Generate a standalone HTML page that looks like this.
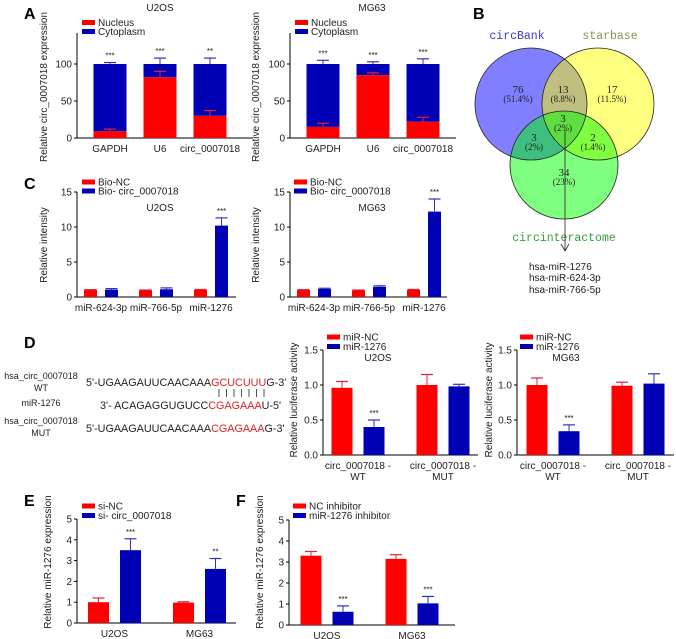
<!DOCTYPE html>
<html><head><meta charset="utf-8">
<style>
html,body{margin:0;padding:0;background:#fff;}
svg{display:block;font-family:"Liberation Sans",Arial,sans-serif;}
.t{font-size:10px;fill:#222;}
.tk{font-size:10px;fill:#222;}
.let{font-size:16px;font-weight:bold;fill:#000;}
.vn{font-family:"Liberation Serif","Noto Serif CJK SC",serif;font-size:11px;fill:#222;}
.vp{font-family:"Liberation Serif","Noto Serif CJK SC",serif;font-size:9px;fill:#222;}
.vl{font-family:"Liberation Mono",monospace;font-size:11.5px;}
.seq{font-size:10.8px;fill:#222;}
</style></head>
<body>
<svg id="fig" width="676" height="639" viewBox="0 0 676 639" xmlns="http://www.w3.org/2000/svg">
<g>
<text class="let" x="24" y="19">A</text>
<text class="let" x="473" y="19">B</text>
<text class="let" x="24" y="189">C</text>
<text class="let" x="24" y="348">D</text>
<text class="let" x="24" y="506">E</text>
<text class="let" x="236" y="506">F</text>
</g>
<g>
<circle cx="531" cy="104" r="56" fill="rgb(0,0,255)" fill-opacity="0.5"/>
<circle cx="598" cy="104" r="56" fill="rgb(255,255,0)" fill-opacity="0.5"/>
<circle cx="564" cy="165" r="54" fill="rgb(0,255,0)" fill-opacity="0.5"/>
<circle cx="531" cy="104" r="56" fill="none" stroke="#222" stroke-width="0.8"/>
<circle cx="598" cy="104" r="56" fill="none" stroke="#222" stroke-width="0.8"/>
<circle cx="564" cy="165" r="54" fill="none" stroke="#222" stroke-width="0.8"/>
<text class="vl" x="517" y="39" text-anchor="middle" fill="#3a3ad0">circBank</text>
<text class="vl" x="610" y="39" text-anchor="middle" fill="#8f8f50">starbase</text>
<text class="vl" x="564" y="241" text-anchor="middle" fill="#3a9a3a">circinteractome</text>
<g text-anchor="middle">
<text class="vn" x="518" y="93">76</text><text class="vp" x="518" y="102">(51.4%)</text>
<text class="vn" x="563" y="93">13</text><text class="vp" x="563" y="102">(8.8%)</text>
<text class="vn" x="612" y="93">17</text><text class="vp" x="612" y="102">(11.5%)</text>
<text class="vn" x="563" y="122">3</text><text class="vp" x="563" y="131">(2%)</text>
<text class="vn" x="534" y="141">3</text><text class="vp" x="534" y="150">(2%)</text>
<text class="vn" x="593" y="141">2</text><text class="vp" x="593" y="150">(1.4%)</text>
<text class="vn" x="564" y="176">34</text><text class="vp" x="564" y="185">(23%)</text>
</g>
<line x1="565" y1="130" x2="565" y2="251" stroke="#222" stroke-width="0.8"/>
<polyline points="561,244 565,251 569,244" fill="none" stroke="#222" stroke-width="0.8"/>
<text class="t" x="529" y="270">hsa-miR-1276</text>
<text class="t" x="529" y="281">hsa-miR-624-3p</text>
<text class="t" x="529" y="293">hsa-miR-766-5p</text>
</g>
<g style="font-size:9px" fill="#222">
<text x="41" y="379" text-anchor="middle">hsa_circ_0007018</text>
<text x="41" y="391" text-anchor="middle">WT</text>
<text x="41" y="406" text-anchor="middle">miR-1276</text>
<text x="41" y="424" text-anchor="middle">hsa_circ_0007018</text>
<text x="41" y="436" text-anchor="middle">MUT</text>
<text class="seq" x="86" y="386">5'-UGAAGAUUCAACAAA<tspan fill="#e02020">GCUCUUU</tspan>G-3'</text>
<text class="seq" x="100" y="409">3'-  ACAGAGGUGUCC<tspan fill="#e02020">CGAGAAA</tspan>U-5'</text>
<text class="seq" x="86" y="432">5'-UGAAGAUUCAACAAA<tspan fill="#e02020">CGAGAAA</tspan>G-3'</text>
<g stroke="#222" stroke-width="0.8">
<line x1="219" y1="389" x2="219" y2="397"/><line x1="226.5" y1="389" x2="226.5" y2="397"/><line x1="234" y1="389" x2="234" y2="397"/><line x1="241.5" y1="389" x2="241.5" y2="397"/><line x1="249" y1="389" x2="249" y2="397"/><line x1="256.5" y1="389" x2="256.5" y2="397"/><line x1="264" y1="389" x2="264" y2="397"/>
</g>
</g>
<g id="charts"></g>
</svg>
<script>
// ---------- data ----------
const aCats = ['GAPDH','U6','circ_0007018'];
const aU2osNucleus = [9, 82, 30];
const aU2osNucleusErr = [3, 8, 7];
const aU2osCytoErr = [2, 8, 8];
const aU2osSig = ['***','***','**'];
const aMg63Nucleus = [15, 85, 22];
const aMg63NucleusErr = [5, 3, 6];
const aMg63CytoErr = [5, 3, 7];
const aMg63Sig = ['***','***','***'];
const aTicks = [0, 50, 100];

const cCats = ['miR-624-3p','miR-766-5p','miR-1276'];
const cU2osNC = [1.0, 0.95, 1.0];
const cU2osNCErr = [0.05, 0.05, 0.08];
const cU2osBio = [1.05, 1.1, 10.2];
const cU2osBioErr = [0.15, 0.2, 1.1];
const cMg63NC = [1.0, 0.95, 1.0];
const cMg63NCErr = [0.05, 0.05, 0.08];
const cMg63Bio = [1.15, 1.45, 12.2];
const cMg63BioErr = [0.1, 0.15, 1.8];
const cSig = ['','','***'];
const cTicks = [0, 5, 10, 15];

const dCats = ['circ_0007018 -|WT','circ_0007018 -|MUT'];
const dU2osNC = [0.96, 1.0];
const dU2osNCErr = [0.09, 0.15];
const dU2osMir = [0.40, 0.98];
const dU2osMirErr = [0.10, 0.03];
const dMg63NC = [1.0, 0.99];
const dMg63NCErr = [0.10, 0.05];
const dMg63Mir = [0.34, 1.02];
const dMg63MirErr = [0.09, 0.14];
const dSig = ['***',''];
const dTicks = [0, 0.5, 1.0, 1.5];

const eCats = ['U2OS','MG63'];
const eNC = [1.0, 0.98];
const eNCErr = [0.2, 0.04];
const eSi = [3.5, 2.6];
const eSiErr = [0.55, 0.5];
const eSig = ['***','**'];
const fNC = [3.3, 3.15];
const fNCErr = [0.2, 0.2];
const fInh = [0.63, 1.03];
const fInhErr = [0.28, 0.33];
const fSig = ['***','***'];
const efTicks = [0, 1, 2, 3, 4, 5];

// ---------- drawing ----------
const NS = 'http://www.w3.org/2000/svg';
const root = document.getElementById('charts');
const RED = '#ff0000', BLUE = '#0000b4';
function mk(tag, attrs, parent) {
  const e = document.createElementNS(NS, tag);
  for (const k in attrs) e.setAttribute(k, attrs[k]);
  (parent || root).appendChild(e);
  return e;
}
function txt(x, y, s, cls, anchor, parent) {
  const t = mk('text', {x: x, y: y, class: cls || 't', 'text-anchor': anchor || 'middle'}, parent);
  t.textContent = s;
  return t;
}
function axes(g, p) {
  const y = v => p.base - v * p.ppu;
  const ax = mk('path', {d: `M${p.x0},${p.top}V${p.base}H${p.x1}`, fill: 'none', stroke: '#000', 'stroke-width': 1}, g);
  
  
  p.ticks.forEach(v => {
    mk('line', {x1: p.x0 - 3, x2: p.x0, y1: y(v), y2: y(v), stroke: '#000'}, g);
    const t = txt(p.x0 - 5, y(v) + 3.5, p.fmt ? v.toFixed(1) : String(v), 'tk', 'end', g);
    
    
  });
  const yt = mk('text', {x: 0, y: 0, class: 't', 'text-anchor': 'middle', transform: `translate(${p.tx},${p.tcy}) rotate(-90)`}, g);
  yt.textContent = p.ytitle;
  
  
  if (p.title) {
    const tt = txt(p.titleX, p.titleY, p.title, 't', 'middle', g);
    
    
  }
  return y;
}
function err(g, cx, yTop, yErr, color) {
  mk('line', {x1: cx, x2: cx, y1: yTop, y2: yErr, stroke: color, 'stroke-width': 1}, g);
  mk('line', {x1: cx - 6, x2: cx + 6, y1: yErr, y2: yErr, stroke: color, 'stroke-width': 1.2}, g);
}
function legend(g, x, y, labels, gap) {
  labels.forEach((l, i) => {
    const sw = mk('rect', {x: x, y: y + i * gap - 2.5, width: 13, height: 5, fill: i ? BLUE : RED}, g);
    
    
    const t = txt(x + 16, y + i * gap + 3.5, l, 't', 'start', g);
    
    
  });
}
function stacked(name, p, nuc, nucErr, cytErr, sig) {
  const g = mk('g', {});
  
  
  const y = axes(g, p);
  aCats.forEach((c, i) => {
    const cx = p.x0 + p.first + i * p.step, w = p.w;
    const b1 = mk('rect', {x: cx - w / 2, y: y(100), width: w, height: y(nuc[i]) - y(100), fill: BLUE}, g);
    
    
    const b2 = mk('rect', {x: cx - w / 2, y: y(nuc[i]), width: w, height: y(0) - y(nuc[i]), fill: RED}, g);
    
    
    err(g, cx, y(nuc[i]), y(nuc[i] + nucErr[i]), '#e02040');
    err(g, cx, y(100), y(100 + cytErr[i]), '#3030c0');
    const s = txt(cx, y(100 + cytErr[i]) - 4, sig[i], 't', 'middle', g);
    s.setAttribute('style', 'font-size:8px');
    const l = txt(cx, p.base + 14, c, 't', 'middle', g);
    
    
  });
  legend(g, p.x0 + 5, 22.5, ['Nucleus', 'Cytoplasm'], 9);
}
function grouped(name, p, cats, s1, e1, s2, e2, sig, legendLabels) {
  const g = mk('g', {});
  
  
  const y = axes(g, p);
  cats.forEach((c, i) => {
    const gc = p.x0 + p.first + i * p.step;
    [[s1, e1, RED, '#e02040', -1], [s2, e2, BLUE, '#3030c0', 1]].forEach(([s, e, col, ecol, sgn]) => {
      const cx = gc + sgn * p.off;
      const b = mk('rect', {x: cx - p.w / 2, y: y(s[i]), width: p.w, height: y(0) - y(s[i]), fill: col}, g);
      
      
      err(g, cx, y(s[i]), y(s[i] + e[i]), ecol);
      if (sgn > 0 && sig[i]) {
        const st = txt(cx, y(s[i] + e[i]) - 4, sig[i], 't', 'middle', g);
        st.setAttribute('style', 'font-size:8px');
      }
    });
    c.split('|').forEach((part, k) => {
      const l = txt(gc, p.base + 14 + k * 11, part, 't', 'middle', g);
      
      
    });
  });
  legend(g, p.lx, p.ly, legendLabels, p.lgap);
}

const aBase = {base: 138, ppu: 0.74, top: 33, ticks: aTicks, ytitle: 'Relative circ_0007018 expression', tcy: 87, titleY: 11, first: 33, step: 50, w: 33};
stacked('chart-a-u2os', Object.assign({}, aBase, {x0: 77, x1: 253, tx: 47, title: 'U2OS', titleX: 160}), aU2osNucleus, aU2osNucleusErr, aU2osCytoErr, aU2osSig);
stacked('chart-a-mg63', Object.assign({}, aBase, {x0: 290, x1: 456, tx: 259, title: 'MG63', titleX: 372}), aMg63Nucleus, aMg63NucleusErr, aMg63CytoErr, aMg63Sig);

const cBase = {base: 297, ppu: 7, top: 192, ticks: cTicks, ytitle: 'Relative intensity', tcy: 245, titleY: 211, first: 24, step: 55, w: 13, off: 10.5, ly: 182, lgap: 9};
grouped('chart-c-u2os', Object.assign({}, cBase, {x0: 77, x1: 236, tx: 47, title: 'U2OS', titleX: 160, lx: 82}), cCats, cU2osNC, cU2osNCErr, cU2osBio, cU2osBioErr, cSig, ['Bio-NC', 'Bio- circ_0007018']);
grouped('chart-c-mg63', Object.assign({}, cBase, {x0: 290, x1: 447, tx: 259, title: 'MG63', titleX: 372, lx: 294}), cCats, cMg63NC, cMg63NCErr, cMg63Bio, cMg63BioErr, cSig, ['Bio-NC', 'Bio- circ_0007018']);

const dBase = {base: 455, ppu: 70, top: 350, ticks: dTicks, fmt: true, ytitle: 'Relative luciferase activity', tcy: 400, titleY: 361, step: 85, w: 21, off: 16, ly: 337, lgap: 9.5};
grouped('chart-d-u2os', Object.assign({}, dBase, {x0: 323, x1: 478, tx: 297, title: 'U2OS', titleX: 378, first: 35, lx: 327}), dCats, dU2osNC, dU2osNCErr, dU2osMir, dU2osMirErr, dSig, ['miR-NC', 'miR-1276']);
grouped('chart-d-mg63', Object.assign({}, dBase, {x0: 517, x1: 674, tx: 492, title: 'MG63', titleX: 566, first: 36, lx: 520}), dCats, dMg63NC, dMg63NCErr, dMg63Mir, dMg63MirErr, dSig, ['miR-NC', 'miR-1276']);

const efBase = {ticks: efTicks, ytitle: 'Relative miR-1276 expression', tcy: 562, step: 85, w: 21, off: 16, ly: 506, lgap: 9.5};
grouped('chart-e', Object.assign({}, efBase, {x0: 77, x1: 236, base: 623, ppu: 20.8, top: 519, tx: 51, first: 37.5, lx: 82}), eCats, eNC, eNCErr, eSi, eSiErr, eSig, ['si-NC', 'si- circ_0007018']);
grouped('chart-f', Object.assign({}, efBase, {x0: 289, x1: 455, base: 625, ppu: 21, top: 520, tx: 263, first: 38, lx: 293}), eCats, fNC, fNCErr, fInh, fInhErr, fSig, ['NC inhibitor', 'miR-1276 inhibitor']);
</script>
</body></html>
